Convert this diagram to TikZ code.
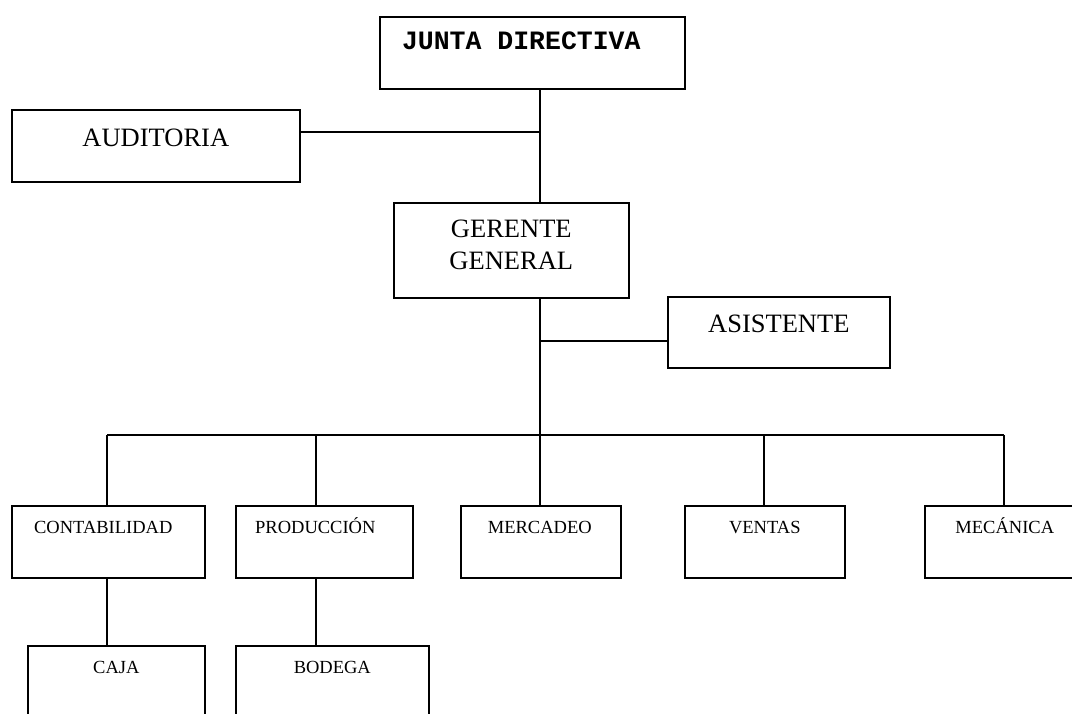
\documentclass[tikz,border=0pt]{standalone}
\usepackage{fontspec}
\setmainfont{Liberation Serif}
\newfontfamily\courfont{Liberation Mono}
\tikzset{
  orgbox/.style={draw=black, line width=1.6pt, anchor=north west, inner sep=0pt},
  conn/.style={draw=black, line width=1.5pt},
  bigtxt/.style={font=\fontsize{26.5}{32}\selectfont, inner sep=0pt, anchor=base},
  smalltxt/.style={font=\fontsize{18.5}{21}\selectfont, inner sep=0pt, anchor=base},
  monotxt/.style={font=\courfont\bfseries\fontsize{26.5}{32}\selectfont, inner sep=0pt, anchor=base}
}
\begin{document}
\begin{tikzpicture}[x=1pt,y=-1pt]
\useasboundingbox (0,0) rectangle (1072,713);
\clip (0,0) rectangle (1072,713);

% top level
\node[orgbox, minimum width=305pt, minimum height=72pt,
  label={[monotxt, yshift=-33.5pt, xshift=-11pt]north:JUNTA DIRECTIVA}]
  (junta) at (379,16) {};
\node[orgbox, minimum width=288pt, minimum height=72pt,
  label={[bigtxt, yshift=-37pt]north:AUDITORIA}]
  (audit) at (11,109) {};
\node[orgbox, minimum width=235pt, minimum height=95pt,
  label={[bigtxt, yshift=-35pt]north:GERENTE},
  label={[bigtxt, yshift=-67pt]north:GENERAL}]
  (gerente) at (393,202) {};
\node[orgbox, minimum width=222pt, minimum height=71pt,
  label={[bigtxt, yshift=-36pt]north:ASISTENTE}]
  (asist) at (667,296) {};

% departments
\node[orgbox, minimum width=193pt, minimum height=72pt,
  label={[smalltxt, yshift=-28.5pt, xshift=-5pt]north:CONTABILIDAD}]
  (contab) at (11,505) {};
\node[orgbox, minimum width=177pt, minimum height=72pt,
  label={[smalltxt, yshift=-28.5pt, xshift=-9pt]north:PRODUCCIÓN}]
  (prod) at (235,505) {};
\node[orgbox, minimum width=160pt, minimum height=72pt,
  label={[smalltxt, yshift=-28.5pt, xshift=-1pt]north:MERCADEO}]
  (merc) at (460,505) {};
\node[orgbox, minimum width=160pt, minimum height=72pt,
  label={[smalltxt, yshift=-28.5pt]north:VENTAS}]
  (ventas) at (684,505) {};
\node[orgbox, minimum width=160pt, minimum height=72pt,
  label={[smalltxt, yshift=-28.5pt]north:MECÁNICA}]
  (mec) at (924,505) {};

% sub units (cut off at the bottom)
\node[orgbox, minimum width=177pt, minimum height=100pt,
  label={[smalltxt, yshift=-28.5pt]north:CAJA}]
  (caja) at (27,645) {};
\node[orgbox, minimum width=193pt, minimum height=100pt,
  label={[smalltxt, yshift=-28.5pt]north:BODEGA}]
  (bodega) at (235,645) {};

% junction coordinates
\coordinate (trunk) at (540,0);
\coordinate (audj) at (540,132);
\coordinate (asj) at (540,341);
\coordinate (bus) at (540,435);
\coordinate (d1) at (107,435);
\coordinate (d2) at (316,435);
\coordinate (d3) at (540,435);
\coordinate (d4) at (764,435);
\coordinate (d5) at (1004,435);

% connectors
\draw[conn] (junta.south -| trunk) -- (gerente.north -| trunk);
\draw[conn] (audj -| audit.east) -- (audj);
\draw[conn] (gerente.south -| trunk) -- (bus);
\draw[conn] (asj) -- (asj -| asist.west);
\draw[conn] (d1) -- (d5);
\draw[conn] (d1) -- (d1 |- contab.north);
\draw[conn] (d2) -- (d2 |- prod.north);
\draw[conn] (d3) -- (d3 |- merc.north);
\draw[conn] (d4) -- (d4 |- ventas.north);
\draw[conn] (d5) -- (d5 |- mec.north);
\draw[conn] (d1 |- contab.south) -- (d1 |- caja.north);
\draw[conn] (d2 |- prod.south) -- (d2 |- bodega.north);
\end{tikzpicture}
\end{document}
